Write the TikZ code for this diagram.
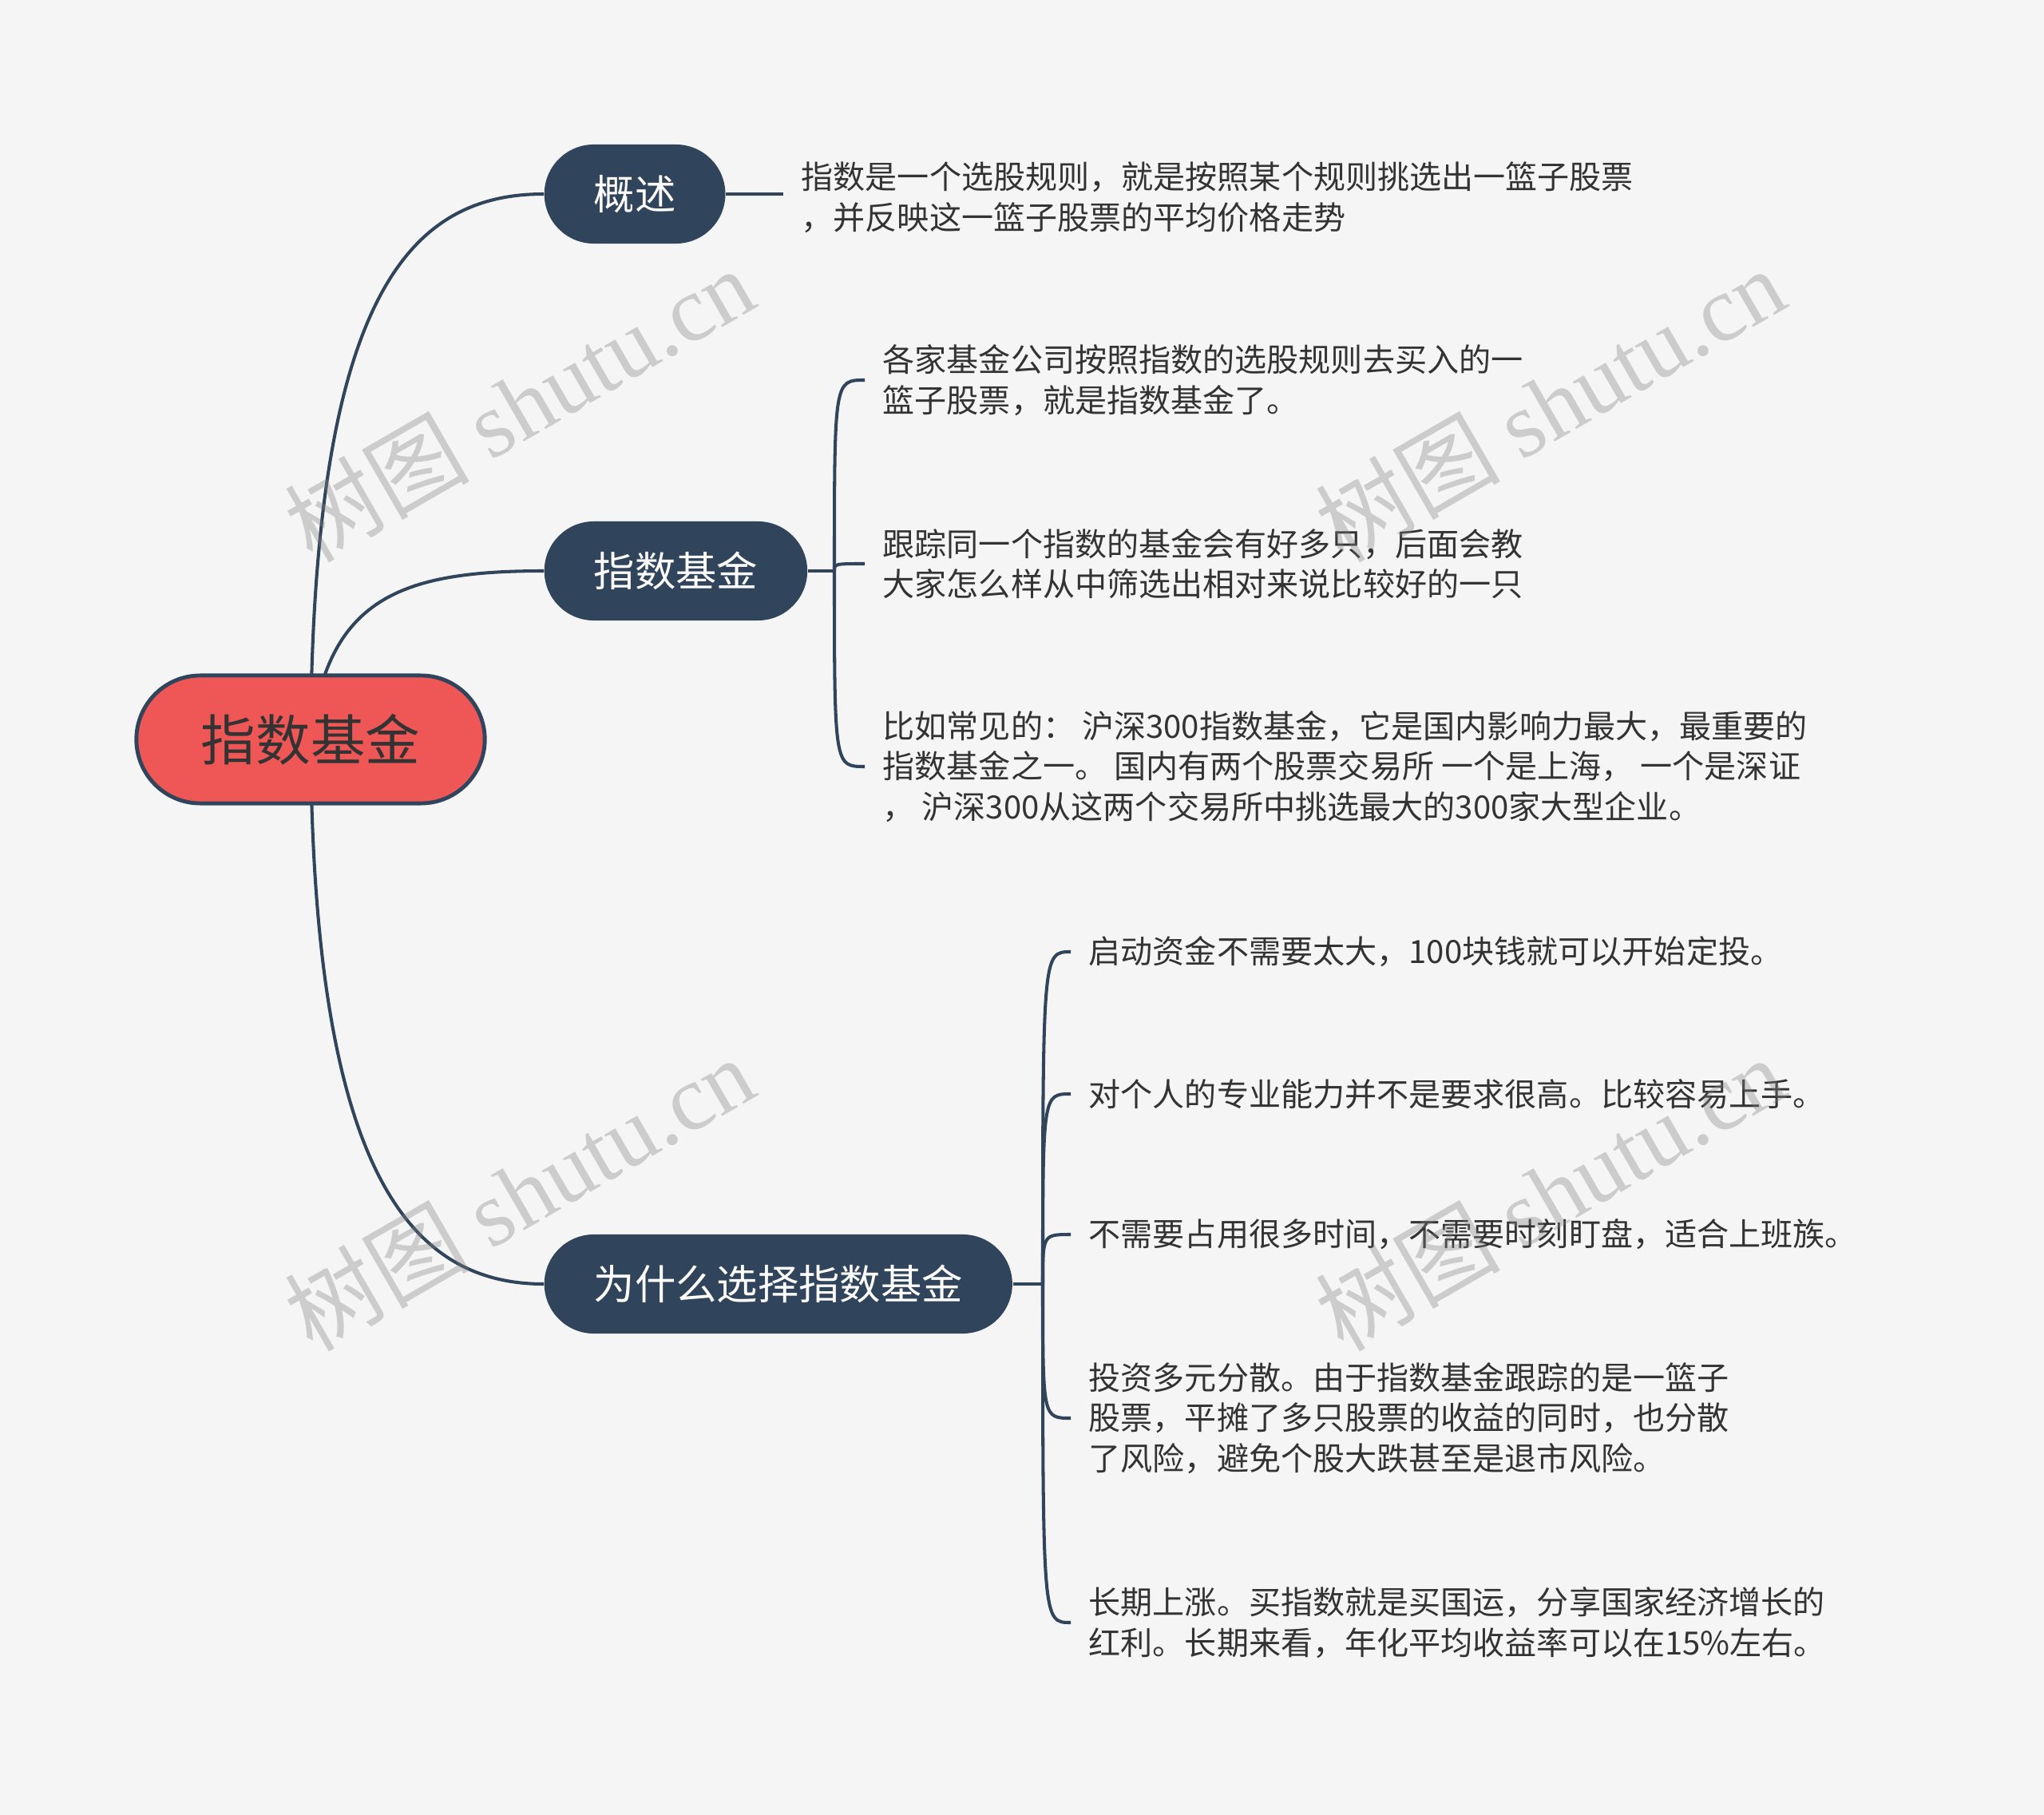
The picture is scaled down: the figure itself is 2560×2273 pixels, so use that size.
\documentclass[tikz,border=0pt]{standalone}
\usepackage{fontspec}
\setmainfont{Noto Sans CJK SC}
\newfontfamily\wmlatin{Liberation Serif}
\usetikzlibrary{backgrounds}

\definecolor{navy}{HTML}{30455C}
\definecolor{rootred}{HTML}{EF5656}
\definecolor{ink}{HTML}{333333}
\definecolor{paper}{HTML}{F5F5F5}

\begin{document}
\begin{tikzpicture}[
  x=0.01cm, y=-0.01cm,
  root/.style={rectangle, rounded corners=0.8cm, fill=rootred, draw=navy, line width=1.4pt,
    minimum height=1.6cm, inner xsep=0.81cm, text=ink, font=\fontsize{19.5pt}{22pt}\selectfont},
  branch/.style={rectangle, rounded corners=0.62cm, fill=navy, minimum height=1.24cm,
    inner xsep=0.62cm, text=white, anchor=west, font=\fontsize{14.6pt}{17pt}\selectfont},
  leaf/.style={anchor=west, align=left, inner xsep=0.22cm, inner ysep=0pt, text=ink,
    font=\fontsize{11.4pt}{14.4pt}\selectfont},
  link/.style={navy, line width=1.15pt},
  wmark/.style={rotate=30, text=gray, opacity=0.35, font=\fontsize{33pt}{38pt}\selectfont}
]

% === Canvas ===
\useasboundingbox (0,0) rectangle (2560,2273);

% === Central topic + main branches ===
\node[root] (zsjj) at (389,926) {指数基金};
\node[branch] (gaishu) at (681,243) {概述};
\node[branch] (jijin) at (681,715) {指数基金};
\node[branch] (weishenme) at (681,1608) {为什么选择指数基金};

% === Leaves ===
\node[leaf] (l1) at (981,247) {指数是一个选股规则，就是按照某个规则挑选出一篮子股票\\，并反映这一篮子股票的平均价格走势};

\node[leaf] (l2a) at (1083,476) {各家基金公司按照指数的选股规则去买入的一\\篮子股票，就是指数基金了。};
\node[leaf] (l2b) at (1083,706) {跟踪同一个指数的基金会有好多只，后面会教\\大家怎么样从中筛选出相对来说比较好的一只};
\node[leaf] (l2c) at (1083,960) {比如常见的： 沪深300指数基金，它是国内影响力最大，最重要的\\指数基金之一。 国内有两个股票交易所 一个是上海， 一个是深证\\， 沪深300从这两个交易所中挑选最大的300家大型企业。};

\node[leaf] (l3a) at (1341,1192) {启动资金不需要太大，100块钱就可以开始定投。};
\node[leaf] (l3b) at (1341,1370) {对个人的专业能力并不是要求很高。比较容易上手。};
\node[leaf] (l3c) at (1341,1546) {不需要占用很多时间，不需要时刻盯盘，适合上班族。};
\node[leaf] (l3d) at (1341,1776) {投资多元分散。由于指数基金跟踪的是一篮子\\股票，平摊了多只股票的收益的同时，也分散\\了风险，避免个股大跌甚至是退市风险。};
\node[leaf] (l3e) at (1341,2032) {长期上涨。买指数就是买国运，分享国家经济增长的\\红利。长期来看，年化平均收益率可以在15\%左右。};

% === Junctions ===
\coordinate (j2) at (1045,715);
\coordinate (j3) at (1306,1608);

% === Connectors (behind the nodes) ===
\begin{pgfonlayer}{background}
\fill[paper] (0,0) rectangle (2560,2273);
\draw[link] (zsjj.center) .. controls (392,370) and (513,243) .. (gaishu.west);
\draw[link] (zsjj.center) .. controls (410,750) and (500,715) .. (jijin.west);
\draw[link] (zsjj.center) .. controls (392,1467) and (513,1608) .. (weishenme.west);
\draw[link] (gaishu.east) -- (gaishu.east -| l1.west);
\draw[link] (jijin.east) -- (j2);
\draw[link] (weishenme.east) -- (j3);
\foreach \l in {l2a,l2b,l2c}
  \draw[link] (j2) .. controls (j2 |- \l.west) .. (\l.west);
\foreach \l in {l3a,l3b,l3c,l3d,l3e}
  \draw[link] (j3) .. controls (j3 |- \l.west) .. (\l.west);
\end{pgfonlayer}

% === Watermarks ===
\node[wmark] (wm1) at (650,506) {树图 {\wmlatin shutu.cn}};
\node[wmark] (wm2) at (1941,506) {树图 {\wmlatin shutu.cn}};
\node[wmark] (wm3) at (650,1494) {树图 {\wmlatin shutu.cn}};
\node[wmark] (wm4) at (1941,1494) {树图 {\wmlatin shutu.cn}};

\end{tikzpicture}
\end{document}
